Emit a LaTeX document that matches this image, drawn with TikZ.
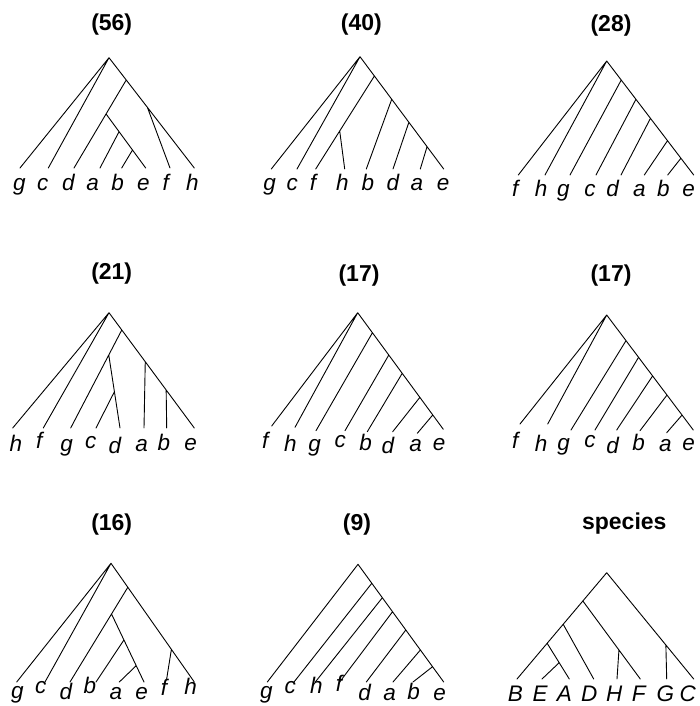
\documentclass[tikz,border=0pt]{standalone}
\usepackage{fontspec}
\setmainfont{Liberation Sans}
\usetikzlibrary{calc}
\begin{document}
\begin{tikzpicture}[x=1pt,y=-1pt,
  lab/.style={anchor=base,inner sep=0pt,font=\fontsize{22.5}{27}\selectfont\itshape},
  ttl/.style={anchor=base,inner sep=0pt,font=\fontsize{23}{28}\selectfont\bfseries},
  br/.style={line width=0.9pt,line cap=round,line join=round,black}]
\useasboundingbox (0,0) rectangle (699,706);

% ---------------- tree (56)
\node[ttl] (T1) at (111.7,30.7) {(56)};
\coordinate (a0) at (109,57.7);
\coordinate (ag) at (20,168);   \coordinate (ac) at (48.3,168);
\coordinate (ad) at (74,168);   \coordinate (aa) at (100,168);
\coordinate (ab) at (121.7,168);\coordinate (ae) at (145.7,168);
\coordinate (af) at (170,168);  \coordinate (ah) at (194.3,168);
\coordinate (a1) at ($(a0)!0.202!(ah)$);
\coordinate (a3) at ($(a0)!0.45!(ah)$);
\coordinate (a2) at ($(a1)!0.386!(ad)$);
\coordinate (a4) at ($(a2)!0.328!(ae)$);
\coordinate (a5) at ($(a2)!0.667!(ae)$);
\draw[br] (a0)--(ag) (a0)--(ac) (a0)--(a1) (a1)--(a3) (a3)--(ah) (a3)--(af)
  (a1)--(a2) (a2)--(ad) (a2)--(a4) (a4)--(aa) (a4)--(a5) (a5)--(ab) (a5)--(ae);
\node[lab] (Lag) at (19.3,190.7) {g};
\node[lab] (Lac) at (42.7,190.7) {c};
\node[lab] (Lad) at (68.3,190.7) {d};
\node[lab] (Laa) at (92.7,190.7) {a};
\node[lab] (Lab) at (117.7,190.7) {b};
\node[lab] (Lae) at (143.3,190.7) {e};
\node[lab] (Laf) at (165.7,190.7) {f};
\node[lab] (Lah) at (192.3,190.7) {h};

% ---------------- tree (40)
\node[ttl] (T2) at (361.3,30.7) {(40)};
\coordinate (b0) at (360,56.7);
\coordinate (bg) at (271.3,169); \coordinate (bc) at (297,169);
\coordinate (bf) at (315.7,169); \coordinate (bh) at (344.7,169);
\coordinate (bb) at (366.3,169); \coordinate (bd) at (393,169);
\coordinate (ba) at (420.3,169); \coordinate (be) at (443.7,169);
\coordinate (b1) at ($(b0)!0.172!(be)$);
\coordinate (bH) at ($(b1)!0.591!(bf)$);
\coordinate (bB) at ($(b0)!0.379!(be)$);
\coordinate (bD) at ($(b0)!0.584!(be)$);
\coordinate (bA) at ($(b0)!0.801!(be)$);
\draw[br] (b0)--(bg) (b0)--(bc) (b0)--(b1) (b1)--(bH) (bH)--(bf) (bH)--(bh)
  (b1)--(bB) (bB)--(bb) (bB)--(bD) (bD)--(bd) (bD)--(bA) (bA)--(ba) (bA)--(be);
\node[lab] (Lbg) at (269.7,190.7) {g};
\node[lab] (Lbc) at (292.3,190.7) {c};
\node[lab] (Lbf) at (313,190.7) {f};
\node[lab] (Lbh) at (342.3,190.7) {h};
\node[lab] (Lbb) at (368,190.7) {b};
\node[lab] (Lbd) at (393,190.7) {d};
\node[lab] (Lba) at (417,190.7) {a};
\node[lab] (Lbe) at (443,190.7) {e};

% ---------------- tree (28)
\node[ttl] (T3) at (611,31.7) {(28)};
\coordinate (c0) at (606.7,61);
\coordinate (cf) at (518.3,175); \coordinate (ch) at (545,175);
\coordinate (cg) at (570,175);   \coordinate (cc) at (596,175);
\coordinate (cd) at (621,175);   \coordinate (ca) at (644.3,175);
\coordinate (cb) at (667.7,175); \coordinate (ce) at (693.7,175);
\coordinate (c1) at ($(c0)!0.167!(ce)$);
\coordinate (c2) at ($(c0)!0.336!(ce)$);
\coordinate (c3) at ($(c0)!0.503!(ce)$);
\coordinate (c4) at ($(c0)!0.699!(ce)$);
\coordinate (c5) at ($(c0)!0.853!(ce)$);
\draw[br] (c0)--(cf) (c0)--(ch) (c0)--(c1) (c1)--(cg) (c1)--(c2) (c2)--(cc)
  (c2)--(c3) (c3)--(cd) (c3)--(c4) (c4)--(ca) (c4)--(c5) (c5)--(cb) (c5)--(ce);
\node[lab] (Lcf) at (515.3,196.5) {f};
\node[lab] (Lch) at (541,196.5) {h};
\node[lab] (Lcg) at (563.3,196.5) {g};
\node[lab] (Lcc) at (590,196.5) {c};
\node[lab] (Lcd) at (612.7,196.5) {d};
\node[lab] (Lca) at (639.3,196.5) {a};
\node[lab] (Lcb) at (663.3,196.5) {b};
\node[lab] (Lce) at (688.7,196.5) {e};

% ---------------- tree (21)
\node[ttl] (T4) at (111.7,279.3) {(21)};
\coordinate (d0) at (109,312.7);
\coordinate (dh) at (12.7,428);  \coordinate (df) at (43.3,428);
\coordinate (dg) at (70.7,428);  \coordinate (dc) at (96,428);
\coordinate (dd) at (120,428);   \coordinate (da) at (144,428);
\coordinate (db) at (166.7,428); \coordinate (de) at (194.3,428);
\coordinate (d1) at ($(d0)!0.15!(de)$);
\coordinate (d2) at ($(d1)!0.255!(dg)$);
\coordinate (d3) at ($(d2)!0.503!(dd)$);
\coordinate (dA) at ($(d0)!0.425!(de)$);
\coordinate (dB) at ($(d0)!0.67!(de)$);
\draw[br] (d0)--(dh) (d0)--(df) (d0)--(d1) (d1)--(d2) (d2)--(dg) (d2)--(d3)
  (d3)--(dd) (d3)--(dc) (d1)--(dA) (dA)--(da) (dA)--(dB) (dB)--(db) (dB)--(de);
\node[lab] (Ldh) at (16,451.7) {h};
\node[lab] (Ldf) at (39.3,448.3) {f};
\node[lab] (Ldg) at (66.7,451.7) {g};
\node[lab] (Ldc) at (90.7,448.3) {c};
\node[lab] (Ldd) at (115,453.3) {d};
\node[lab] (Lda) at (141.7,451) {a};
\node[lab] (Ldb) at (164,450) {b};
\node[lab] (Lde) at (190.7,450) {e};

% ---------------- tree (17) middle
\node[ttl] (T5) at (359,281.7) {(17)};
\coordinate (e0) at (357.7,312.7);
\coordinate (ef) at (271.7,426);   \coordinate (eh) at (295,427.3);
\coordinate (eg) at (316,430.7);   \coordinate (ec) at (345,430.7);
\coordinate (eb) at (367.3,431.7); \coordinate (ed) at (392.7,431.7);
\coordinate (ea) at (417.3,433.3); \coordinate (ee) at (443.3,429.3);
\coordinate (e1) at ($(e0)!0.172!(ee)$);
\coordinate (e2) at ($(e0)!0.363!(ee)$);
\coordinate (e3) at ($(e0)!0.52!(ee)$);
\coordinate (e4) at ($(e0)!0.726!(ee)$);
\coordinate (e5) at ($(e0)!0.877!(ee)$);
\draw[br] (e0)--(ef) (e0)--(eh) (e0)--(e1) (e1)--(eg) (e1)--(e2) (e2)--(ec)
  (e2)--(e3) (e3)--(eb) (e3)--(e4) (e4)--(ed) (e4)--(e5) (e5)--(ea) (e5)--(ee);
\node[lab] (Lef) at (265.3,448.3) {f};
\node[lab] (Leh) at (290.3,451.7) {h};
\node[lab] (Leg) at (314.7,451.7) {g};
\node[lab] (Lec) at (340.3,447.7) {c};
\node[lab] (Leb) at (365.7,450) {b};
\node[lab] (Led) at (388,453.3) {d};
\node[lab] (Lea) at (415.7,451) {a};
\node[lab] (Lee) at (439,450) {e};

% ---------------- tree (17) right
\node[ttl] (T6) at (611,281.7) {(17)};
\coordinate (f0) at (606.7,315);
\coordinate (ff) at (520,424);   \coordinate (fh) at (547.7,424);
\coordinate (fg) at (571,430);   \coordinate (fc) at (595,430);
\coordinate (fd) at (616.7,430); \coordinate (fb) at (640,430.7);
\coordinate (fa) at (666.7,432.7); \coordinate (fe) at (693.3,430);
\coordinate (f1) at ($(f0)!0.223!(fe)$);
\coordinate (f2) at ($(f0)!0.368!(fe)$);
\coordinate (f3) at ($(f0)!0.53!(fe)$);
\coordinate (f4) at ($(f0)!0.696!(fe)$);
\coordinate (f5) at ($(f0)!0.87!(fe)$);
\draw[br] (f0)--(ff) (f0)--(fh) (f0)--(f1) (f1)--(fg) (f1)--(f2) (f2)--(fc)
  (f2)--(f3) (f3)--(fd) (f3)--(f4) (f4)--(fb) (f4)--(f5) (f5)--(fa) (f5)--(fe);
\node[lab] (Lff) at (515.3,448.3) {f};
\node[lab] (Lfh) at (541,451.7) {h};
\node[lab] (Lfg) at (563.7,450) {g};
\node[lab] (Lfc) at (590,447.7) {c};
\node[lab] (Lfd) at (612.7,453.3) {d};
\node[lab] (Lfb) at (638.7,450) {b};
\node[lab] (Lfa) at (665.3,451.7) {a};
\node[lab] (Lfe) at (688.7,450) {e};

% ---------------- tree (16)
\node[ttl] (T7) at (111.7,530) {(16)};
\coordinate (g0) at (111,563.3);
\coordinate (gg) at (16.7,682);  \coordinate (gc) at (45,682);
\coordinate (gd) at (70,682);    \coordinate (gb) at (96,682);
\coordinate (ga) at (119.3,682); \coordinate (ge) at (144,682);
\coordinate (gf) at (166.5,680); \coordinate (gh) at (194.3,682);
\coordinate (g1) at ($(g0)!0.202!(gh)$);
\coordinate (g2) at ($(g1)!0.282!(gd)$);
\coordinate (g3) at ($(g2)!0.382!(ge)$);
\coordinate (g4) at ($(g2)!0.76!(ge)$);
\coordinate (gF) at ($(g0)!0.725!(gh)$);
\draw[br] (g0)--(gg) (g0)--(gc) (g0)--(g1) (g1)--(g2) (g2)--(gd) (g2)--(g3)
  (g3)--(gb) (g3)--(g4) (g4)--(ga) (g4)--(ge) (g1)--(gF) (gF)--(gf) (gF)--(gh);
\node[lab] (Lgg) at (17.3,698) {g};
\node[lab] (Lgc) at (40.7,693) {c};
\node[lab] (Lgd) at (66,699) {d};
\node[lab] (Lgb) at (90,693) {b};
\node[lab] (Lga) at (116,699) {a};
\node[lab] (Lge) at (141.7,699) {e};
\node[lab] (Lgf) at (164,695) {f};
\node[lab] (Lgh) at (190.7,694) {h};

% ---------------- tree (9)
\node[ttl] (T8) at (357,530) {(9)};
\coordinate (h0) at (358,564.3);
\coordinate (hg) at (267.3,682); \coordinate (hc) at (294,682);
\coordinate (hh) at (315.3,682); \coordinate (hf) at (339.7,682);
\coordinate (hd) at (366.3,682); \coordinate (ha) at (393,682);
\coordinate (hb) at (413,682);   \coordinate (he) at (443.7,682);
\coordinate (h1) at ($(h0)!0.161!(he)$);
\coordinate (h2) at ($(h0)!0.284!(he)$);
\coordinate (h3) at ($(h0)!0.403!(he)$);
\coordinate (h4) at ($(h0)!0.558!(he)$);
\coordinate (h5) at ($(h0)!0.728!(he)$);
\coordinate (h6) at ($(h0)!0.87!(he)$);
\draw[br] (h0)--(hg) (h0)--(h1) (h1)--(hc) (h1)--(h2) (h2)--(hh) (h2)--(h3)
  (h3)--(hf) (h3)--(h4) (h4)--(hd) (h4)--(h5) (h5)--(ha) (h5)--(h6) (h6)--(hb) (h6)--(he);
\node[lab] (Lhg) at (266.3,698) {g};
\node[lab] (Lhc) at (290.3,693) {c};
\node[lab] (Lhh) at (316.3,693) {h};
\node[lab] (Lhf) at (339,691) {f};
\node[lab] (Lhd) at (364.7,700) {d};
\node[lab] (Lha) at (389.7,700) {a};
\node[lab] (Lhb) at (413.7,699) {b};
\node[lab] (Lhe) at (439.7,700) {e};

% ---------------- species tree
\node[ttl] (T9) at (624.3,529.3) {species};
\coordinate (s0) at (606.7,572.7);
\coordinate (sB) at (517,679);   \coordinate (sE) at (542,679);
\coordinate (sA) at (569.3,679); \coordinate (sD) at (593.7,679);
\coordinate (sH) at (617,679);   \coordinate (sF) at (640.3,679);
\coordinate (sG) at (666.7,679); \coordinate (sC) at (693.7,679);
\coordinate (s1) at ($(s0)!0.266!(sB)$);
\coordinate (s2) at ($(s0)!0.485!(sB)$);
\coordinate (s3) at ($(s0)!0.664!(sB)$);
\coordinate (s4) at ($(s3)!0.543!(sA)$);
\coordinate (s5) at ($(s1)!0.628!(sF)$);
\coordinate (s6) at ($(s0)!0.68!(sC)$);
\draw[br] (s0)--(s1) (s1)--(s2) (s2)--(s3) (s3)--(sB) (s3)--(s4) (s4)--(sA)
  (s4)--(sE) (s2)--(sD) (s1)--(s5) (s5)--(sF) (s5)--(sH) (s0)--(s6) (s6)--(sC) (s6)--(sG);
\node[lab] (LsB) at (515.3,701.5) {B};
\node[lab] (LsE) at (540,701.5) {E};
\node[lab] (LsA) at (564.3,701.5) {A};
\node[lab] (LsD) at (589.3,701.5) {D};
\node[lab] (LsH) at (614.3,701.5) {H};
\node[lab] (LsF) at (638.7,701.5) {F};
\node[lab] (LsG) at (665.3,701.5) {G};
\node[lab] (LsC) at (687.7,701.5) {C};
\end{tikzpicture}
\end{document}
